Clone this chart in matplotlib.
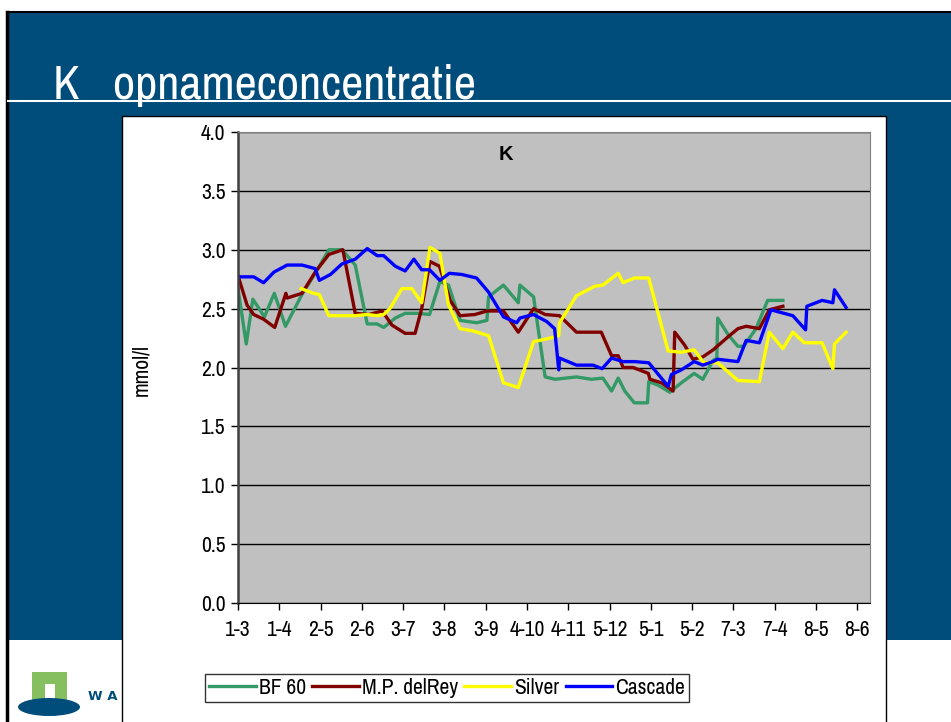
import matplotlib
matplotlib.use("Agg")
import matplotlib.pyplot as plt
from matplotlib import font_manager
from matplotlib.patches import Rectangle, Ellipse
from matplotlib.lines import Line2D

# pick a narrow face if one is installed (the original uses Arial Narrow)
narrow = [f.name for f in font_manager.fontManager.ttflist
          if "narrow" in f.name.lower() or "condensed" in f.name.lower()]
main_font = narrow[0] if narrow else "Liberation Sans"
plt.rcParams['font.family'] = [main_font, 'DejaVu Sans']
is_narrow = bool(narrow)

# x positions are in tick units (0 = "1-3", 15 = "8-6")
tick_labels = ["1-3", "1-4", "2-5", "2-6", "3-7", "3-8", "3-9", "4-10", "4-11",
               "5-12", "5-1", "5-2", "7-3", "7-4", "8-5", "8-6"]

bf60_x = [0, 0.20, 0.36, 0.64, 0.88, 1.15, 1.55, 1.87, 2.20, 2.52, 2.84, 3.13, 3.37,
          3.53, 3.81, 4.05, 4.37, 4.64, 4.89, 5.10, 5.38, 5.78, 6.03, 6.07, 6.43, 6.79,
          6.83, 7.16, 7.44, 7.68, 8.20, 8.56, 8.84, 9.05, 9.21, 9.37, 9.60, 9.92, 9.95,
          10.18, 10.46, 10.74, 11.05, 11.26, 11.51, 11.60, 11.62, 11.87, 12.11, 12.25,
          12.55, 12.83, 13.20]
bf60_y = [2.67, 2.20, 2.58, 2.43, 2.63, 2.35, 2.62, 2.80, 3.00, 3.00, 2.87, 2.37, 2.37,
          2.34, 2.42, 2.46, 2.46, 2.45, 2.73, 2.70, 2.40, 2.38, 2.40, 2.60, 2.70, 2.55,
          2.70, 2.60, 1.92, 1.90, 1.92, 1.90, 1.91, 1.80, 1.91, 1.80, 1.70, 1.70, 1.88,
          1.85, 1.79, 1.87, 1.95, 1.90, 2.06, 2.08, 2.42, 2.28, 2.18, 2.18,
          2.33, 2.57, 2.57]

rey_x = [0, 0.22, 0.38, 0.62, 0.89, 1.16, 1.19, 1.55, 1.87, 2.20, 2.54, 2.84, 3.17,
         3.49, 3.73, 4.05, 4.29, 4.45, 4.65, 4.88, 5.14, 5.38, 5.74, 6.03, 6.43, 6.79,
         7.16, 7.44, 7.79, 8.20, 8.80, 9.05, 9.21, 9.33, 9.57, 9.94, 9.98, 10.26, 10.54,
         10.58, 10.82, 11.02, 11.26, 11.51, 11.87, 12.11, 12.31, 12.63, 12.87, 13.20]
rey_y = [2.78, 2.53, 2.45, 2.41, 2.34, 2.63, 2.59, 2.63, 2.81, 2.96, 3.00, 2.46, 2.45,
         2.48, 2.36, 2.29, 2.29, 2.50, 2.90, 2.86, 2.57, 2.44, 2.45, 2.48, 2.48, 2.30,
         2.50, 2.45, 2.44, 2.30, 2.30, 2.10, 2.10, 2.00, 2.00, 1.95, 1.90, 1.87, 1.80,
         2.30, 2.19, 2.07, 2.09, 2.15, 2.26, 2.33, 2.35, 2.33, 2.49, 2.52]

silver_x = [1.53, 1.83, 1.97, 2.20, 2.84, 3.13, 3.37, 3.53, 3.68, 3.97, 4.21, 4.45, 4.65,
            4.89, 5.10, 5.38, 5.70, 6.07, 6.43, 6.79, 7.16, 7.44, 7.68, 7.77, 7.79, 8.20,
            8.64, 8.84, 9.21, 9.33, 9.60, 9.95, 10.42, 10.74, 11.05, 11.26, 11.34, 11.62,
            12.11, 12.63, 12.87, 13.20, 13.44, 13.72, 14.15, 14.41, 14.45, 14.73]
silver_y = [2.67, 2.63, 2.62, 2.44, 2.44, 2.45, 2.44, 2.45, 2.50, 2.67, 2.67, 2.55, 3.02,
            2.97, 2.53, 2.33, 2.31, 2.27, 1.87, 1.83, 2.22, 2.24, 2.26, 2.27, 2.38, 2.61,
            2.69, 2.70, 2.80, 2.72, 2.76, 2.76, 2.14, 2.13, 2.15, 2.05, 2.04, 2.04,
            1.89, 1.88, 2.30, 2.16, 2.30, 2.21, 2.21, 1.99, 2.20, 2.30]

cascade_x = [0, 0.38, 0.62, 0.87, 1.19, 1.55, 1.87, 1.97, 2.24, 2.52, 2.84, 3.13, 3.37,
             3.53, 3.81, 4.05, 4.26, 4.45, 4.64, 4.89, 5.12, 5.42, 5.78, 6.07, 6.43, 6.75,
             6.83, 7.16, 7.48, 7.67, 7.77, 7.79, 8.20, 8.60, 8.82, 9.05, 9.33, 9.61, 9.95,
             10.42, 10.50, 10.74, 11.05, 11.26, 11.51, 11.62, 12.11, 12.31, 12.63, 12.91,
             13.44, 13.75, 13.78, 14.15, 14.41, 14.45, 14.73]
cascade_y = [2.77, 2.77, 2.72, 2.81, 2.87, 2.87, 2.84, 2.74, 2.79, 2.88, 2.92, 3.01, 2.95,
             2.95, 2.86, 2.82, 2.92, 2.83, 2.83, 2.74, 2.80, 2.79, 2.76, 2.64, 2.43, 2.38,
             2.42, 2.45, 2.39, 2.33, 1.98, 2.08, 2.02, 2.02, 1.99, 2.08, 2.05, 2.05, 2.04,
             1.84, 1.94, 1.98, 2.05, 2.02, 2.05, 2.07, 2.05, 2.23, 2.21, 2.49,
             2.44, 2.32, 2.52, 2.57, 2.55, 2.66, 2.51]

W, H = 951, 722
fig = plt.figure(figsize=(W / 100, H / 100), dpi=100)

def fx(px):
    return px / W

def fy(py):
    return 1 - py / H

# slide background
navy = "#004c7a"
fig.patches.append(Rectangle((fx(7), fy(640)), 1, fy(12) - fy(640), transform=fig.transFigure,
                             facecolor=navy, edgecolor="none", zorder=0))
fig.add_artist(Line2D([fx(7), fx(7)], [0, fy(12)], color="black", lw=2.5))
fig.add_artist(Line2D([fx(7), 1], [fy(12), fy(12)], color="black", lw=1.5))
fig.add_artist(Line2D([fx(8), 1], [fy(101), fy(101)], color="white", lw=1.5))
fig.text(fx(53), fy(99), "K   opnameconcentratie", color="white",
         fontsize=35 if is_narrow else 26, ha="left", va="baseline")

# logo
fig.patches.append(Rectangle((fx(32), fy(703)), fx(35), fy(672) - fy(703), transform=fig.transFigure,
                             facecolor="#86bf60", edgecolor="none", zorder=1))
fig.patches.append(Rectangle((fx(45), fy(703)), fx(10), fy(684) - fy(703), transform=fig.transFigure,
                             facecolor="white", edgecolor="none", zorder=2))
fig.patches.append(Ellipse((fx(49), fy(707)), fx(62), fy(698) - fy(716), transform=fig.transFigure,
                           facecolor=navy, edgecolor="none", zorder=3))
fig.text(fx(88), fy(697), "W A", color=navy, fontsize=9.5, fontweight="bold",
         family="DejaVu Sans", ha="left", va="center")

# chart box
fig.patches.append(Rectangle((fx(122), -0.01), fx(886) - fx(122), fy(116) + 0.01,
                             transform=fig.transFigure, facecolor="white",
                             edgecolor="black", lw=1, zorder=4))

ax = fig.add_axes([fx(238), fy(603), fx(870) - fx(238), fy(132) - fy(603)], zorder=5)
ax.set_facecolor("#c0c0c0")

ax.plot(bf60_x, bf60_y, color="#339966", lw=2.4, label="BF 60")
ax.plot(rey_x, rey_y, color="#800000", lw=2.4, label="M.P. delRey")
ax.plot(silver_x, silver_y, color="#ffff00", lw=2.4, label="Silver")
ax.plot(cascade_x, cascade_y, color="#0000ff", lw=2.4, label="Cascade")

lab = 15.5 if is_narrow else 11
ax.set_xlim(0, 15.31)
ax.set_ylim(0, 4.0)
ax.set_yticks([0.0, 0.5, 1.0, 1.5, 2.0, 2.5, 3.0, 3.5, 4.0])
ax.set_yticklabels(["%.1f" % v for v in ax.get_yticks()])
ax.set_xticks(range(len(tick_labels)))
ax.set_xticklabels(tick_labels)
ax.yaxis.grid(True, color="black", lw=1)
ax.set_axisbelow(True)
ax.tick_params(axis="both", direction="out", length=5, width=1, labelsize=lab, colors="black", pad=4)
ax.tick_params(axis="x", pad=7)
for s in ["top", "right"]:
    ax.spines[s].set_color("#808080")
ax.spines["left"].set_linewidth(1.8)
ax.spines["left"].set_color("#404040")
ax.spines["bottom"].set_color("black")

fig.text(fx(141), fy(370), "mmol/l", rotation=90, fontsize=lab, ha="center", va="center", zorder=6)
fig.text(fx(506), fy(155), "K", fontsize=14.5, fontweight="bold", family="Liberation Sans",
         ha="center", va="center", zorder=6)

handles, labels = ax.get_legend_handles_labels()
leg = fig.legend(handles, labels, loc="center", ncol=4, bbox_to_anchor=(fx(447), fy(688)),
                 fontsize=lab, frameon=True, fancybox=False, edgecolor="black",
                 handlelength=2.15, handletextpad=0.15, columnspacing=0.3,
                 borderpad=0.2, borderaxespad=0)
leg.get_frame().set_linewidth(1)
leg.set_zorder(7)

plt.savefig("out.png", dpi=100)
